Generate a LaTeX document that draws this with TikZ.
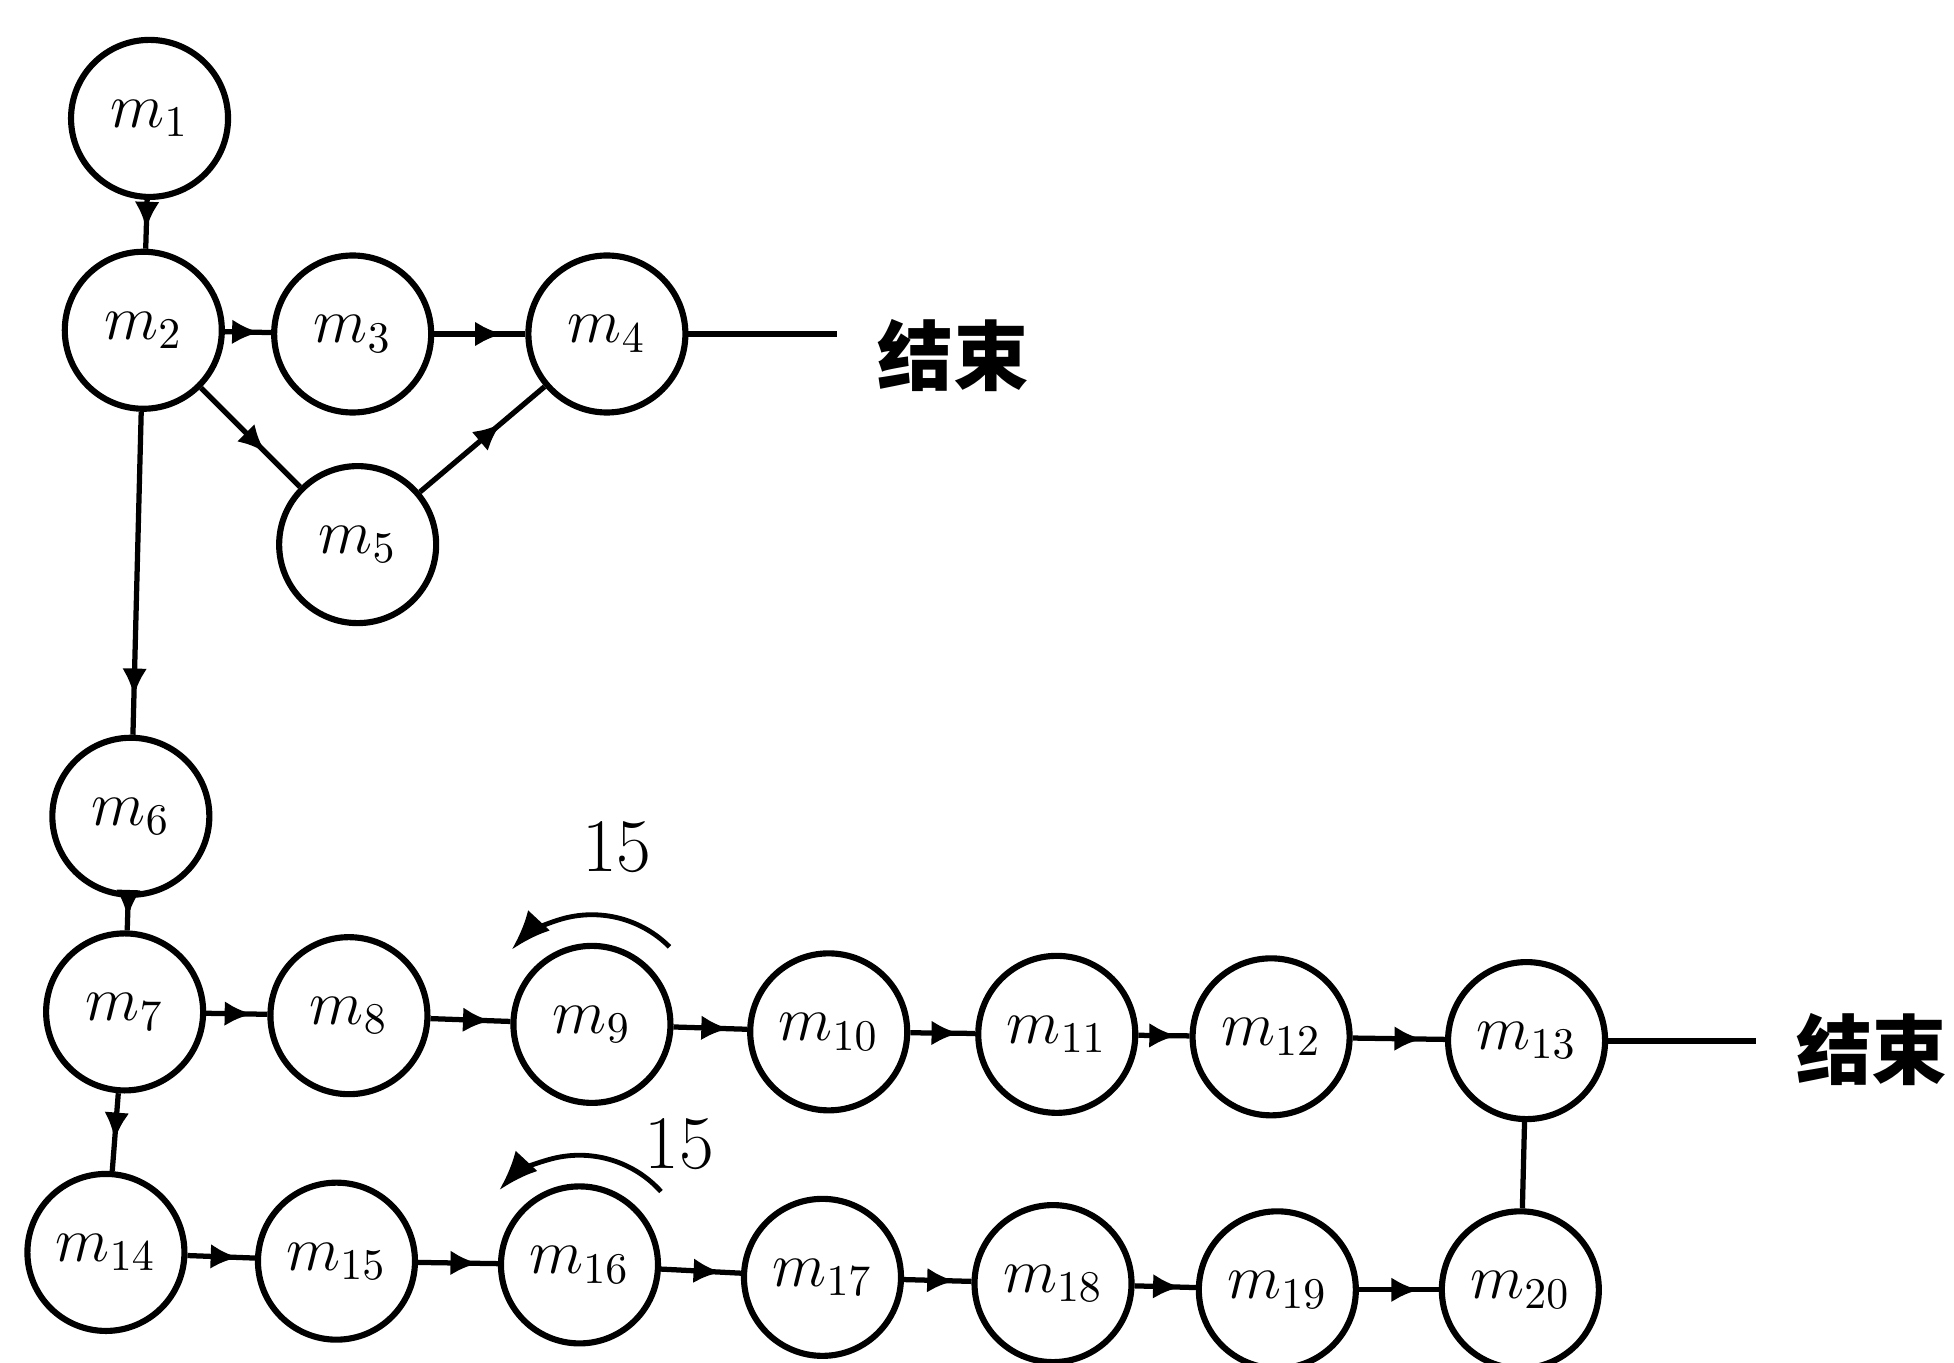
\documentclass[tikz,border=0pt]{standalone}
\usepackage{fontspec}
\newfontfamily\cjk{Noto Sans CJK SC}
\usetikzlibrary{arrows.meta,decorations.markings}
\tikzset{
	state/.style={circle, draw, line width=1.4pt, minimum size=1.26cm, inner sep=0pt, font=\Large},
	flow/.style={line width=1.2pt, postaction={decorate},
		decoration={markings, mark=at position #1 with {\arrow{Latex[length=2.2mm,width=2mm]}}}},
	flow/.default=0.75,
	turn/.style={line width=1.1pt, -{Latex[length=3.2mm,width=2.4mm]}}
}

\begin{document}
\begin{tikzpicture}
			%%%%% START %%%%%
			\useasboundingbox (0, 0) rectangle (15.68, -10.93);
			
			\node[state] (m1) at (1.20, -0.95) {$m_{1}$};
			\node[state] (m2) at (1.15, -2.65) {$m_{2}$};
			\node[state] (m3) at (2.83, -2.68) {$m_{3}$};
			\node[state] (m4) at (4.87, -2.68) {$m_{4}$};
			\node[state] (m5) at (2.87, -4.37) {$m_{5}$};
			\node[state] (m6) at (1.05, -6.55) {$m_{6}$};
			
			\node[state] (m7) at (1.00, -8.12) {$m_{7}$};
			\node[state] (m8) at (2.80, -8.15) {$m_{8}$};
			\node[state] (m9) at (4.75, -8.22) {$m_{9}$};
			\node[state] (m10) at (6.65, -8.28) {$m_{10}$};
			\node[state] (m11) at (8.48, -8.30) {$m_{11}$};
			\node[state] (m12) at (10.20, -8.32) {$m_{12}$};
			\node[state] (m13) at (12.25, -8.35) {$m_{13}$};
			
			\node[state] (m14) at (0.85, -10.05) {$m_{14}$};
			\node[state] (m15) at (2.70, -10.12) {$m_{15}$};
			\node[state] (m16) at (4.65, -10.15) {$m_{16}$};
			\node[state] (m17) at (6.60, -10.25) {$m_{17}$};
			\node[state] (m18) at (8.45, -10.30) {$m_{18}$};
			\node[state] (m19) at (10.25, -10.35) {$m_{19}$};
			\node[state] (m20) at (12.20, -10.35) {$m_{20}$};
			
			\node[font=\LARGE] (end1) at (7.65, -2.85) {\cjk\bfseries 结束};
			\node[font=\LARGE] (end2) at (15.02, -8.42) {\cjk\bfseries 结束};
			
			\draw[flow=0.6] (m1) -- (m2);
			\draw[flow] (m2) -- (m3);
			\draw[flow] (m3) -- (m4);
			\draw[flow=0.65] (m2) -- (m5);
			\draw[flow=0.65] (m5) -- (m4);
			\draw[flow=0.88] (m2) -- (m6);
			\draw[flow=0.6] (m6) -- (m7);
			
			\draw[flow] (m7) -- (m8);
			\draw[flow] (m8) -- (m9);
			\draw[flow] (m9) -- (m10);
			\draw[flow] (m10) -- (m11);
			\draw[flow] (m11) -- (m12);
			\draw[flow] (m12) -- (m13);
			\draw[flow=0.6] (m7) -- (m14);
			
			\draw[flow] (m14) -- (m15);
			\draw[flow] (m15) -- (m16);
			\draw[flow] (m16) -- (m17);
			\draw[flow] (m17) -- (m18);
			\draw[flow] (m18) -- (m19);
			\draw[flow] (m19) -- (m20);
			\draw[line width=1.2pt] (m13) -- (m20);
			
			\draw[line width=1.4pt] (m4) -- ([xshift=-2mm]end1.west |- m4);
			\draw[line width=1.4pt] (m13) -- ([xshift=-2mm]end2.west |- m13);
			
			% turning arcs
			\draw[turn] (m9.center) ++(45:0.88) arc (45:137:0.88);
			\node[font=\LARGE] (t9) at (4.95, -6.80) {15};
			\draw[turn] (m16.center) ++(42:0.88) arc (42:137:0.88);
			\node[font=\LARGE] (t16) at (5.45, -9.18) {15};
			%%%%% END %%%%%
\end{tikzpicture}
\end{document}
